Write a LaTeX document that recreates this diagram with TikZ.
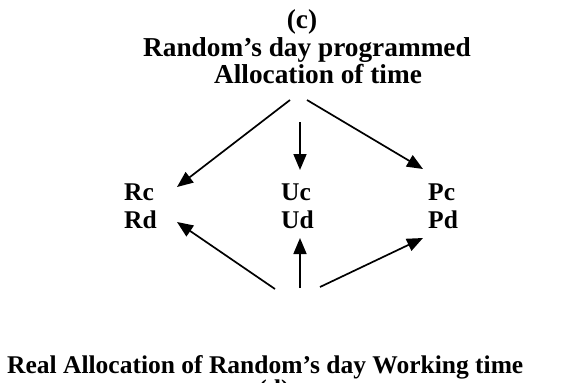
\documentclass[tikz,border=0pt]{standalone}
\usepackage{fontspec}
\setmainfont{Liberation Serif}
\usetikzlibrary{arrows.meta}
\begin{document}
\begin{tikzpicture}[x=1pt,y=-1pt,
  lbl/.style={font=\fontsize{25.5}{28}\selectfont\bfseries, inner sep=0pt},
  ttl/.style={font=\fontsize{27.3}{30}\selectfont\bfseries, inner sep=0pt},
  conn/.style={line width=1.7pt, -{Triangle[length=16pt,width=13pt]}}]
\useasboundingbox (0,0) rectangle (574,383);
% titles
\node[ttl, anchor=base] (c) at (302,28) {(c)};
\node[ttl, anchor=base] (prog) at (307,56) {Random’s day programmed};
\node[ttl, anchor=base] (alloc) at (318,83) {Allocation of time};
% three pairs of quantities
\node[lbl, anchor=base west] (rc) at (124,200) {Rc};
\node[lbl, anchor=base west] (rd) at (124,228) {Rd};
\node[lbl, anchor=base west] (uc) at (281,200) {Uc};
\node[lbl, anchor=base west] (ud) at (281,228) {Ud};
\node[lbl, anchor=base west] (pc) at (428,200) {Pc};
\node[lbl, anchor=base west] (pd) at (428,228) {Pd};
% bottom title
\node[lbl, anchor=base west] (real) at (7,373) {Real Allocation of Random’s day Working time};
\node[lbl, anchor=base] (d) at (274,397) {(d)};
% arrow ends
\coordinate (t1) at (290,100);
\coordinate (t2) at (300,122);
\coordinate (t3) at (307,100);
\coordinate (h1) at (177,187);
\coordinate (h2) at (300,170);
\coordinate (h3) at (423,169);
\coordinate (b1) at (275,289);
\coordinate (b2) at (300,288);
\coordinate (b3) at (320,287);
\coordinate (k1) at (177,222);
\coordinate (k2) at (300,238);
\coordinate (k3) at (423,238);
% connectors
\draw[conn] (t1) -- (h1);
\draw[conn] (t2) -- (h2);
\draw[conn] (t3) -- (h3);
\draw[conn] (b1) -- (k1);
\draw[conn] (b2) -- (k2);
\draw[conn] (b3) -- (k3);
\end{tikzpicture}
\end{document}
